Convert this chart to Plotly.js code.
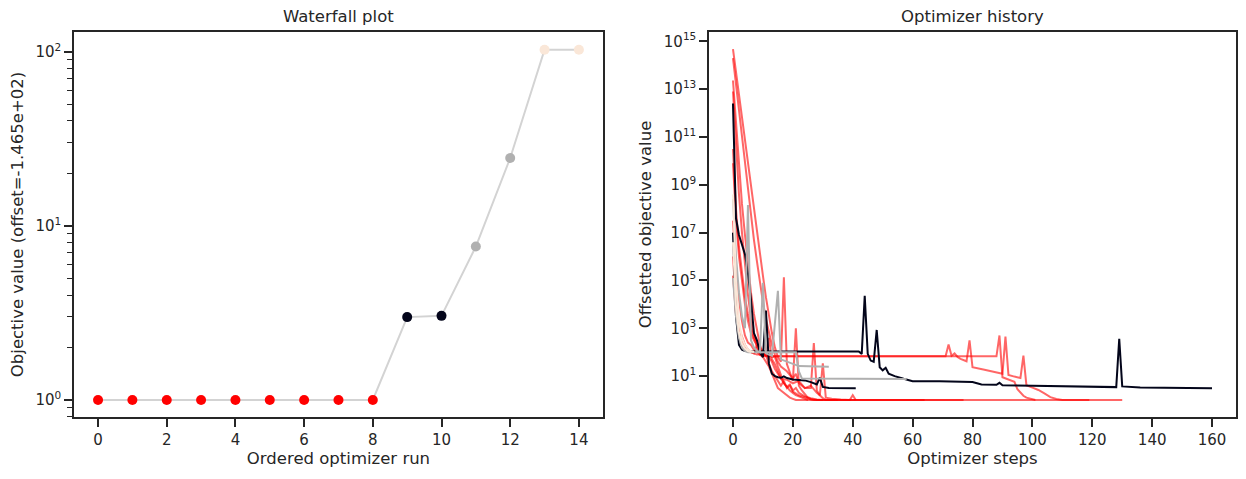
<!DOCTYPE html>
<html>
<head>
<meta charset="utf-8">
<script src="https://cdn.plot.ly/plotly-3.0.1.min.js"></script>
<style>html,body{margin:0;padding:0;background:#fff;}#chart{width:1246px;height:479px;}</style>
</head>
<body>
<div id="chart"></div>
<script>
// ---------- Waterfall plot data ----------
const wfRuns = [0,1,2,3,4,5,6,7,8,9,10,11,12,13,14];
const wfValues = [1,1,1,1,1,1,1,1,1,2.99,3.04,7.6,24.5,102.6,102.6];
const wfColors = ['#ff0000','#ff0000','#ff0000','#ff0000','#ff0000','#ff0000','#ff0000','#ff0000','#ff0000',
                  '#03051a','#03051a','#b0b0b0','#b0b0b0','#fae7d8','#fae7d8'];
const wfTickVals = [1,10,100];
const wfTickText = ['10<sup>0</sup>','10<sup>1</sup>','10<sup>2</sup>'];
const wfMinorVals = [0.8,0.9,2,3,4,5,6,7,8,9,20,30,40,50,60,70,80,90];
const wfXTicks = [0,2,4,6,8,10,12,14];

// ---------- Optimizer history data (steps, log10 of offsetted objective) ----------
const red1Steps = [0,1,2,3,4,5,6,7,8,9,10,11,12,71,72,73,74,75,76,77,78,79,80,84,88,90,91,92,94,96,97,98,100,102,104,106,108,110,130];
const red1Log   = [13.36,11.5,9.8,8.2,6.9,5.6,4.5,3.6,2.9,2.3,1.95,1.85,1.83,1.83,2.32,1.85,1.95,1.8,1.72,1.68,1.62,2.49,1.37,1.27,1.15,1.1,2.65,1.05,0.98,0.92,1.86,0.62,0.52,0.42,0.28,0.12,0.04,0.0,0.0];
const red2Steps = [0,1,2,3,4,5,6,7,8,9,10,11,88,89,90,92,94,95,96,97,98,100,101,119];
const red2Log   = [12.9,10.6,8.6,7.0,5.6,4.4,3.4,2.7,2.2,1.95,1.85,1.83,1.83,2.7,0.95,0.85,0.76,0.45,0.3,0.18,0.1,0.03,0.0,0.0];
const red3Steps = [0,1,2,3,4,5,6,7,8,9,10,11,12,13,14,15,16,17,18,19,20,21,22,23,24,25,26,27,101];
const red3Log   = [14.67,13.7,12.7,11.8,10.8,9.9,9.0,8.0,7.1,6.1,5.2,4.3,3.5,2.8,2.2,1.8,1.6,5.13,1.5,1.1,0.8,3.0,0.6,0.4,0.25,0.1,0.03,0.0,0.0];
const red4Steps = [0,1,2,3,4,5,6,7,8,9,10,11,12,13,14,15,16,18,20,21,22,24,26,27,28,29,30,31,77];
const red4Log   = [14.3,13.2,12.1,11.0,9.9,8.8,7.7,6.7,5.8,4.9,4.1,3.4,2.8,2.3,1.9,1.6,1.4,1.2,0.9,1.1,0.7,0.5,0.5,2.38,0.4,0.2,0.08,0.0,0.0];
const red5Steps = [0,1,2,3,4,5,6,7,8,9,10,11,12,13,14,15,16,17,18,19,20,22,24,26,28,64];
const red5Log   = [10.5,8.0,6.4,5.2,4.3,3.6,3.0,2.6,2.4,2.1,2.0,1.9,1.5,1.2,1.0,0.8,0.6,0.8,0.5,0.6,0.35,0.2,0.1,0.03,0.0,0.0];
const red6Steps = [0,1,2,3,4,5,6,7,8,9,10,11,12,13,14,15,16,18,20,22,24,26,28,29,30,31,33,36,39,40,41];
const red6Log   = [9.9,7.6,6.0,4.9,4.0,3.3,2.8,2.5,2.3,2.2,2.0,1.9,1.8,1.6,1.3,1.1,0.9,0.85,0.7,0.8,0.5,0.6,0.3,0.2,1.53,0.1,0.05,0.02,0.0,0.2,0.0];
const red7Steps = [0,1,2,3,4,5,6,7,8,9,10,12,14,15,16,17,18,19,20,21,22,24,26,28,30,35];
const red7Log   = [7.5,5.5,4.2,3.3,2.7,2.4,2.3,2.1,2.0,1.9,1.88,1.85,1.8,1.4,1.0,0.7,0.55,0.65,0.4,0.5,0.3,0.15,0.08,0.02,0.0,0.0];
const red8Steps = [0,1,2,3,4,5,6,7,8,9,10,11,12,13,14,15,16,17,18,19,20,21,22,23,24,25,30];
const red8Log   = [6.0,4.0,3.0,2.6,2.3,2.1,2.0,1.95,1.9,1.9,1.85,1.9,2.6,1.7,1.5,1.2,0.9,0.7,0.55,0.4,0.3,0.2,0.15,0.1,0.05,0.0,0.0];
const red9Steps = [0,1,2,3,4,5,6,7,8,9,10,11,12,13,14,15,16,17,18,19,20,21,25];
const red9Log   = [5.2,3.6,2.8,2.4,2.2,2.1,2.0,1.95,2.3,1.9,1.8,1.6,1.4,1.1,0.8,0.5,0.4,0.3,0.2,0.1,0.05,0.0,0.0];
const black1Steps = [0,1,2,3,4,6,42,43,44,45,46,47,48,49,50,51,52,54,57,60,69,80,83,88,89,90,100,110,120,128,129,130,136,160];
const black1Log   = [7.0,3.5,2.3,2.1,2.05,2.03,2.03,1.93,4.36,1.93,1.65,1.6,2.93,1.37,1.24,1.35,1.1,1.0,0.89,0.79,0.78,0.75,0.65,0.64,0.72,0.62,0.6,0.58,0.56,0.54,2.56,0.57,0.52,0.49];
const black2Steps = [0,1,2,3,4,5,6,7,8,9,10,11,12,13,14,15,16,17,18,20,22,24,26,28,29,30,32,35,41];
const black2Log   = [12.4,7.6,6.9,6.5,6.1,5.3,4.2,2.8,2.5,2.0,1.79,3.74,1.52,1.1,1.0,0.95,0.93,0.99,0.92,0.86,0.84,0.82,0.75,0.65,0.93,0.55,0.5,0.5,0.49];
const gray1Steps = [0,1,2,3,4,5,6,7,8,9,10,11,13,15,16,18,20,22,32];
const gray1Log   = [8.4,6.0,4.5,3.5,3.0,8.15,2.5,2.2,2.05,2.0,4.9,1.95,1.85,4.57,1.7,1.6,1.5,1.42,1.39];
const gray2Steps = [0,1,2,3,4,5,21,22,23,58];
const gray2Log   = [5.1,3.5,2.6,2.2,2.05,2.0,2.0,1.2,0.9,0.88];
const peach1Steps = [0,1,2,3,4,5,6,7];
const peach1Log   = [8.6,5.0,3.3,2.6,2.3,2.12,2.04,2.011];
const peach2Steps = [0,1,2,3,4,5,6];
const peach2Log   = [6.6,3.9,2.8,2.35,2.15,2.05,2.011];
const histTickVals = [1e1,1e3,1e5,1e7,1e9,1e11,1e13,1e15];
const histTickText = ['10<sup>1</sup>','10<sup>3</sup>','10<sup>5</sup>','10<sup>7</sup>','10<sup>9</sup>','10<sup>11</sup>','10<sup>13</sup>','10<sup>15</sup>'];
const histXTicks = [0,20,40,60,80,100,120,140,160];

const RED = 'rgba(255,0,0,0.6)', BLACK = '#03051a', GRAY = '#b0b0b0', PEACH = '#fae7d8';
const histRuns = [
  [red1Steps, red1Log, RED], [red2Steps, red2Log, RED], [red3Steps, red3Log, RED],
  [red4Steps, red4Log, RED], [red5Steps, red5Log, RED], [red6Steps, red6Log, RED],
  [red7Steps, red7Log, RED], [red8Steps, red8Log, RED], [red9Steps, red9Log, RED],
  [black1Steps, black1Log, BLACK], [black2Steps, black2Log, BLACK],
  [gray1Steps, gray1Log, GRAY], [gray2Steps, gray2Log, GRAY],
  [peach1Steps, peach1Log, PEACH], [peach2Steps, peach2Log, PEACH]
];

const TXT = '#262626';
const FONT = 'DejaVu Sans, sans-serif';

const traces = [];
traces.push({
  x: wfRuns, y: wfValues, xaxis: 'x', yaxis: 'y', type: 'scatter', mode: 'lines+markers',
  line: {color: '#d3d3d3', width: 2},
  marker: {color: wfColors, size: 10, line: {width: 0}},
  hoverinfo: 'x+y', showlegend: false
});
histRuns.forEach(r => {
  traces.push({
    x: r[0], y: r[1].map(v => Math.pow(10, v)), xaxis: 'x2', yaxis: 'y2', type: 'scatter', mode: 'lines',
    line: {color: r[2], width: 2}, showlegend: false
  });
});

const axisCommon = {
  showline: true, mirror: true, linecolor: TXT, linewidth: 1.5,
  ticks: 'outside', ticklen: 8, tickwidth: 1.5, tickcolor: TXT,
  showgrid: false, zeroline: false,
  tickfont: {family: FONT, size: 15, color: TXT}
};

const layout = {
  width: 1246, height: 479,
  paper_bgcolor: '#ffffff', plot_bgcolor: '#ffffff',
  margin: {l: 74, r: 10, t: 32, b: 62},
  font: {family: FONT, color: TXT},
  xaxis: Object.assign({}, axisCommon, {
    domain: [0, 0.4552], range: [-0.7, 14.7], tickmode: 'array', tickvals: wfXTicks,
    title: {text: 'Ordered optimizer run', font: {family: FONT, size: 16.5, color: TXT}, standoff: 5},
    automargin: false, anchor: 'y'
  }),
  yaxis: Object.assign({}, axisCommon, {
    type: 'log', range: [-0.098, 2.113], tickmode: 'array', tickvals: wfTickVals, ticktext: wfTickText,
    minor: {tickmode: 'array', tickvals: wfMinorVals, ticks: 'outside', ticklen: 5.5, tickwidth: 1.1, tickcolor: TXT, showgrid: false},
    title: {text: 'Objective value (offset=-1.465e+02)', font: {family: FONT, size: 16.5, color: TXT}, standoff: 8},
    automargin: false, anchor: 'x'
  }),
  xaxis2: Object.assign({}, axisCommon, {
    domain: [0.5465, 1], range: [-8, 168], tickmode: 'array', tickvals: histXTicks,
    title: {text: 'Optimizer steps', font: {family: FONT, size: 16.5, color: TXT}, standoff: 5},
    automargin: false, anchor: 'y2'
  }),
  yaxis2: Object.assign({}, axisCommon, {
    type: 'log', range: [-0.71, 15.39], tickmode: 'array', tickvals: histTickVals, ticktext: histTickText,
    title: {text: 'Offsetted objective value', font: {family: FONT, size: 16.5, color: TXT}, standoff: 8},
    automargin: false, anchor: 'x2'
  }),
  annotations: [
    {text: 'Waterfall plot', xref: 'paper', yref: 'paper', x: 0.2276, y: 1, xanchor: 'center', yanchor: 'bottom',
     yshift: 4, showarrow: false, font: {family: FONT, size: 16.5, color: TXT}},
    {text: 'Optimizer history', xref: 'paper', yref: 'paper', x: 0.77325, y: 1, xanchor: 'center', yanchor: 'bottom',
     yshift: 4, showarrow: false, font: {family: FONT, size: 16.5, color: TXT}}
  ]
};

Plotly.newPlot('chart', traces, layout, {displayModeBar: false});
</script>
</body>
</html>
